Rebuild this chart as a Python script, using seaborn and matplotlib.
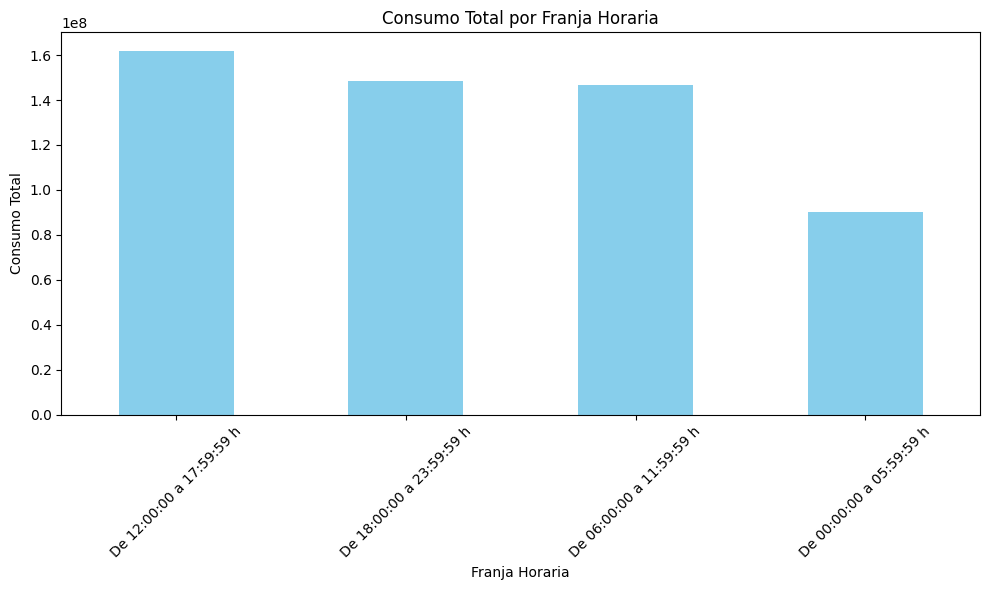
import pandas as pd
import matplotlib
matplotlib.use("Agg")
import matplotlib.pyplot as plt
import seaborn as sns

franjas = [
    "De 12:00:00 a 17:59:59 h",
    "De 18:00:00 a 23:59:59 h",
    "De 06:00:00 a 11:59:59 h",
    "De 00:00:00 a 05:59:59 h",
]
consumo = [1.620e8, 1.483e8, 1.465e8, 0.900e8]

df = pd.DataFrame({"franja": franjas, "consumo": consumo})

plt.figure(figsize=(10, 6), dpi=100)
ax = sns.barplot(x="franja", y="consumo", data=df, color="skyblue",
                 saturation=1, width=0.5, linewidth=0)
plt.title("Consumo Total por Franja Horaria")
plt.xlabel("Franja Horaria")
plt.ylabel("Consumo Total")
plt.xticks(rotation=45)
ax.set_xlim(-0.5, 3.5)
plt.tight_layout()
plt.savefig("out.png", dpi=100, bbox_inches="tight")
plt.close()
